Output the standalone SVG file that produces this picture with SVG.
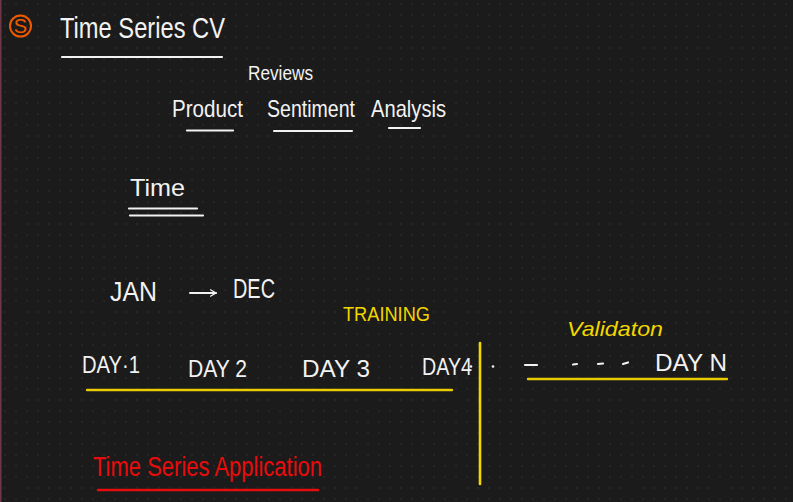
<svg xmlns="http://www.w3.org/2000/svg" width="793" height="502" viewBox="0 0 793 502">
<defs>
<pattern id="grid" x="0" y="0" width="11" height="11" patternUnits="userSpaceOnUse">
<rect x="4.4" y="3.4" width="1.2" height="1.2" fill="#363636"/>
</pattern>
<marker id="chev" viewBox="0 0 10 10" refX="8" refY="5" markerWidth="8" markerHeight="8" markerUnits="userSpaceOnUse" orient="auto">
<path d="M1,1 L8,5 L1,9" fill="none" stroke="#f2f2f2" stroke-width="1.6" stroke-linecap="round"/>
</marker>
</defs>
<style>
text{font-family:"Liberation Sans","DejaVu Sans",sans-serif;}
.w{fill:#f2f2f2;}
.y{fill:#f2d600;}
.r{fill:#e80c0c;}
.lw{stroke:#f2f2f2;stroke-width:2.2;stroke-linecap:round;fill:none;}
.ly{stroke:#e8cc00;stroke-width:2.4;stroke-linecap:round;fill:none;}
.lr{stroke:#e80c0c;stroke-width:2.6;stroke-linecap:round;fill:none;}
</style>
<rect width="793" height="502" fill="#1b1b1b"/>
<rect width="793" height="502" fill="url(#grid)"/>
<rect x="0" y="0" width="1.5" height="502" fill="#6e3848"/>

<g id="badge">
<circle cx="20.5" cy="26" r="10.5" fill="none" stroke="#f25a00" stroke-width="2"/>
<text x="20.5" y="33" font-size="20" text-anchor="middle" fill="#f25a00">S</text>
</g>

<g id="title">
<text class="w" x="60" y="38" font-size="29" textLength="165" lengthAdjust="spacingAndGlyphs">Time Series CV</text>
<line class="lw" x1="62" y1="57" x2="222" y2="57"/>
</g>

<g id="reviews">
<text class="w" x="248" y="80" font-size="20" textLength="65" lengthAdjust="spacingAndGlyphs">Reviews</text>
</g>

<g id="product">
<text class="w" x="172" y="117" font-size="24" textLength="71" lengthAdjust="spacingAndGlyphs">Product</text>
<line class="lw" x1="187" y1="130.5" x2="233" y2="130.5"/>
</g>
<g id="sentiment">
<text class="w" x="267" y="117" font-size="24" textLength="88" lengthAdjust="spacingAndGlyphs">Sentiment</text>
<line class="lw" x1="274" y1="131" x2="352" y2="131"/>
</g>
<g id="analysis">
<text class="w" x="371" y="117" font-size="24" textLength="75" lengthAdjust="spacingAndGlyphs">Analysis</text>
<line class="lw" x1="389" y1="128" x2="420" y2="128"/>
</g>

<g id="time">
<text class="w" x="130" y="196" font-size="24" textLength="55" lengthAdjust="spacingAndGlyphs">Time</text>
<line class="lw" x1="129" y1="208.5" x2="197" y2="208.5"/>
<line class="lw" x1="130" y1="215.5" x2="203" y2="215.5"/>
</g>

<g id="jan">
<text class="w" x="110" y="301" font-size="28" textLength="47" lengthAdjust="spacingAndGlyphs">JAN</text>
</g>
<g id="dec">
<text class="w" x="233" y="298" font-size="27" textLength="42" lengthAdjust="spacingAndGlyphs">DEC</text>
</g>

<g id="training">
<text class="y" x="343" y="321" font-size="21" textLength="87" lengthAdjust="spacingAndGlyphs">TRAINING</text>
<line class="ly" x1="87" y1="390" x2="452" y2="390"/>
</g>

<g id="day1"><text class="w" x="82" y="373" font-size="24" textLength="58" lengthAdjust="spacingAndGlyphs">DAY·1</text></g>
<g id="day2"><text class="w" x="188" y="377" font-size="24" textLength="59" lengthAdjust="spacingAndGlyphs">DAY 2</text></g>
<g id="day3"><text class="w" x="302" y="377" font-size="24" textLength="68" lengthAdjust="spacingAndGlyphs">DAY 3</text></g>
<g id="day4"><text class="w" x="422" y="375" font-size="24" textLength="50" lengthAdjust="spacingAndGlyphs">DAY4</text></g>

<g id="validation">
<text class="y" x="567" y="336" font-size="21" font-style="italic" textLength="96" lengthAdjust="spacingAndGlyphs">Validaton</text>
<line class="ly" x1="528" y1="379" x2="727" y2="379"/>
</g>

<g id="ellipsis">
<circle cx="471" cy="366.5" r="1.3" fill="#f2f2f2"/>
<circle cx="493" cy="366.5" r="1.3" fill="#f2f2f2"/>
<line class="lw" x1="525" y1="365" x2="537" y2="365"/>
<line class="lw" x1="573" y1="364.5" x2="577" y2="364"/>
<line class="lw" x1="598" y1="364" x2="603" y2="363.5"/>
<line class="lw" x1="623" y1="364" x2="628" y2="362.5"/>
</g>

<g id="dayn"><text class="w" x="655" y="371" font-size="24" textLength="72" lengthAdjust="spacingAndGlyphs">DAY N</text></g>

<g id="application">
<text class="r" x="93" y="476" font-size="27" textLength="229" lengthAdjust="spacingAndGlyphs">Time Series Application</text>
<line class="lr" x1="98" y1="490" x2="318" y2="490"/>
</g>

<g id="connectors">
<line x1="190" y1="293" x2="216" y2="293" stroke="#f2f2f2" stroke-width="2" stroke-linecap="round" marker-end="url(#chev)"/>
<line x1="480" y1="343" x2="480" y2="484" stroke="#f2d600" stroke-width="2.6" stroke-linecap="round"/>
</g>
</svg>
